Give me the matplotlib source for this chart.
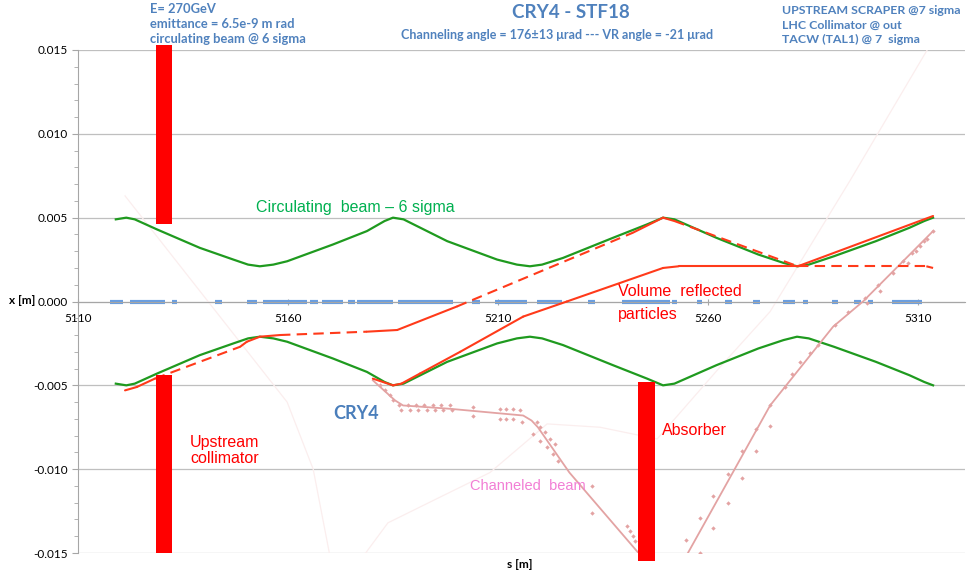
"""
CRY4 - STF18 channeling layout: beam envelope, trajectories and absorbers.
"""

import matplotlib
matplotlib.use("Agg")
import matplotlib.pyplot as plt
from matplotlib.ticker import MultipleLocator, FixedLocator, FormatStrFormatter

# --- circulating beam envelope (upper side; lower side is the mirror) ---
env_s = [5119.0, 5121.5, 5123.5, 5128.8, 5139.0, 5147.0, 5150.5, 5153.3, 5156.5,
         5159.8, 5170.7, 5178.8, 5183.0, 5185.0, 5187.5, 5197.9, 5209.8, 5214.5,
         5217.6, 5220.5, 5225.5, 5237.4, 5245.5, 5249.3, 5252.0, 5262.0, 5272.0,
         5278.0, 5281.2, 5284.0, 5290.0, 5300.0, 5308.0, 5311.5, 5313.6]
env_x = [0.0049, 0.0050, 0.0049, 0.0043, 0.0032, 0.0025, 0.0022, 0.0021, 0.0022,
         0.0024, 0.0034, 0.0042, 0.0048, 0.0050, 0.0049, 0.0036, 0.0025, 0.0022,
         0.0021, 0.0022, 0.0026, 0.0038, 0.0046, 0.0050, 0.0049, 0.0038, 0.0028,
         0.0023, 0.0021, 0.0022, 0.0027, 0.0036, 0.0044, 0.0048, 0.0050]

# --- red trajectory 1 (mixed solid / dashed pieces) ---
red1_s = [5121.2, 5124.0, 5128.3, 5148.6, 5150.2, 5153.3, 5158.1, 5178.8,
          5186.0, 5200.2, 5242.1, 5249.3, 5252.0, 5281.4, 5313.6]
red1_x = [-0.0053, -0.0051, -0.0046, -0.0027, -0.0024, -0.0021, -0.0020, -0.0018,
          -0.0017, -0.0003, 0.0041, 0.0050, 0.0048, 0.0021, 0.0051]
red1_dash = [False, False, True, False, False, False, True, False,
             False, True, False, False, True, False]

# --- red trajectory 2 (from the crystal) ---
red2_s = [5180.2, 5185.0, 5187.0, 5191.4, 5201.0, 5216.0, 5226.4, 5249.3,
          5253.0, 5281.4, 5312.0, 5313.6]
red2_x = [-0.0046, -0.0050, -0.0049, -0.0043, -0.0030, -0.0009, 0.0000, 0.0020,
          0.0021, 0.0021, 0.0021, 0.0020]
red2_dash = [False] * 9 + [True, True]

# --- channeled beam, two legs ---
chan1_s = [5180.2, 5185.5, 5187.4, 5198.6, 5216.0, 5218.0, 5219.5, 5227.0, 5243.8]
chan1_x = [-0.0047, -0.0059, -0.0062, -0.0064, -0.0068, -0.0071, -0.0075, -0.0102, -0.0151]
chan2_s = [5255.0, 5264.8, 5274.8, 5289.8, 5296.9, 5313.6]
chan2_x = [-0.0151, -0.0107, -0.0062, -0.0015, 0.0000, 0.0042]

chan_dot_s = [5181.9, 5183.1, 5184.3, 5185.0,
              5186.5, 5188.5, 5190.5, 5192.5, 5194.5, 5196.5, 5198.5,
              5187.0, 5189.0, 5191.0, 5193.0, 5195.0, 5197.0, 5199.0,
              5204.0, 5204.0, 5210.5, 5212.0, 5213.6, 5210.5, 5212.0, 5213.6,
              5215.2, 5215.7, 5219.3, 5220.0, 5221.2, 5222.4, 5223.6,
              5218.3, 5220.0, 5221.7, 5223.1, 5224.3, 5232.4, 5232.4,
              5240.7, 5241.4, 5242.1, 5242.6,
              5254.8, 5258.1, 5258.1, 5261.2, 5261.2, 5264.8, 5264.8, 5268.1, 5268.1,
              5271.4, 5271.4, 5274.8, 5274.8, 5278.3, 5280.0, 5281.9, 5284.3, 5286.2,
              5290.2, 5293.3, 5297.4, 5297.9, 5300.5, 5301.0, 5304.0, 5306.4, 5308.6,
              5310.5, 5312.1, 5313.6, 5307.6, 5309.5, 5311.4]
chan_dot_x = [-0.0050, -0.0053, -0.0056, -0.0059,
              -0.0062, -0.0062, -0.0062, -0.0062, -0.0062, -0.0062, -0.0062,
              -0.0065, -0.0065, -0.0065, -0.0065, -0.0065, -0.0065, -0.0065,
              -0.0063, -0.0068, -0.0064, -0.0064, -0.0064, -0.0070, -0.0070, -0.0070,
              -0.0065, -0.0072, -0.0072, -0.0075, -0.0078, -0.0082, -0.0085,
              -0.0079, -0.0083, -0.0087, -0.0091, -0.0095, -0.0110, -0.0126,
              -0.0134, -0.0137, -0.0140, -0.0143,
              -0.0142, -0.0129, -0.0150, -0.0135, -0.0116, -0.0120, -0.0103, -0.0105, -0.0089,
              -0.0089, -0.0076, -0.0074, -0.0062, -0.0051, -0.0043, -0.0036, -0.0031, -0.0026,
              -0.0014, -0.0006, 0.0002, -0.0001, 0.0010, 0.0006, 0.0017, 0.0024, 0.0029,
              0.0033, 0.0037, 0.0042, 0.0023, 0.0030, 0.0036]

# --- very faint background trajectories ---
faintA_s = [5121.2, 5159.8, 5166.0, 5170.0]
faintA_x = [0.0063, -0.0060, -0.0100, -0.0152]
faintB_s = [5177.9, 5183.8, 5208.1, 5221.7, 5234.3, 5247.9, 5262.9, 5274.8, 5293.8, 5312.9]
faintB_x = [-0.0152, -0.0132, -0.0102, -0.0073, -0.0075, -0.0082, -0.0039, -0.0006, 0.0072, 0.0153]

# --- aperture markers on the axis (start / end of each dash) ---
mark_start = [5117.6, 5122.4, 5132.4, 5142.6, 5150.2, 5154.0, 5165.2, 5168.1, 5174.3,
              5176.4, 5186.2, 5203.8, 5209.3, 5219.3, 5231.4, 5239.5, 5251.4, 5257.4,
              5264.0, 5270.7, 5277.9, 5282.6, 5289.5, 5294.8, 5298.1, 5303.7]
mark_end = [5120.7, 5130.7, 5133.6, 5144.3, 5152.6, 5164.5, 5167.1, 5173.1, 5176.0,
            5185.0, 5199.3, 5205.7, 5216.9, 5225.2, 5233.1, 5250.9, 5252.6, 5258.6,
            5265.7, 5272.4, 5280.7, 5283.8, 5291.0, 5296.4, 5299.4, 5310.9]

# --- collimator / absorber jaws ---
jaw_s = [5130.5, 5130.5, 5245.3]
jaw_bottom = [0.0046, -0.0150, -0.0155]
jaw_top = [0.0153, -0.0044, -0.0048]

s_ticks = [5110, 5160, 5210, 5260, 5310]

GREEN = "#1f9a1f"
RED = "#ff3a1a"
PINK = "#e3a3a3"
BLUE_TXT = "#4f81bd"


def draw_pieces(ax, s, x, dashed, color):
    for i, d in enumerate(dashed):
        ax.plot(s[i:i + 2], x[i:i + 2], color=color, linewidth=1.5,
                linestyle=(0, (5, 3)) if d else "-", solid_capstyle="round", zorder=4)


fig = plt.figure(figsize=(9.71, 5.75), dpi=100)
ax = fig.add_axes([78 / 971, 1 - 553 / 575, (965 - 78) / 971, (553 - 50) / 575])

ax.set_xlim(5110, 5321.2)
ax.set_ylim(-0.015, 0.015)

# faint lines
ax.plot(faintA_s, faintA_x, color="#fbeeee", linewidth=0.9, zorder=1)
ax.plot(faintB_s, faintB_x, color="#fbeeee", linewidth=0.9, zorder=1)

# aperture markers
ax.hlines([0] * len(mark_start), mark_start, mark_end, color="#6a9ee0",
          linewidth=3.0, zorder=2)

# envelope
ax.plot(env_s, env_x, color=GREEN, linewidth=1.6, zorder=3)
ax.plot(env_s, [-v for v in env_x], color=GREEN, linewidth=1.6, zorder=3)

# trajectories
draw_pieces(ax, red1_s, red1_x, red1_dash, RED)
draw_pieces(ax, red2_s, red2_x, red2_dash, RED)

ax.plot(chan1_s, chan1_x, color=PINK, linewidth=1.3, zorder=3)
ax.plot(chan2_s, chan2_x, color=PINK, linewidth=1.3, zorder=3)
ax.scatter(chan_dot_s, chan_dot_x, s=5, color=PINK, marker="D", linewidths=0, zorder=3)

# jaws
ax.bar(jaw_s, [t - b for t, b in zip(jaw_top, jaw_bottom)], bottom=jaw_bottom,
       width=4.0, color="#ff0000", zorder=5, clip_on=False)

# axes styling (spreadsheet look)
for side in ("top", "right"):
    ax.spines[side].set_visible(False)
ax.spines["bottom"].set_position(("data", 0))
ax.spines["bottom"].set_color("#a6a6a6")
ax.spines["left"].set_color("#a6a6a6")
ax.yaxis.set_major_locator(MultipleLocator(0.005))
ax.yaxis.set_minor_locator(MultipleLocator(0.001))
ax.yaxis.set_major_formatter(FormatStrFormatter("%.3f"))
ax.xaxis.set_major_locator(FixedLocator(s_ticks))
ax.grid(axis="y", color="#bfbfbf", linewidth=0.9)
ax.set_axisbelow(True)
ax.tick_params(axis="y", which="both", direction="out", color="#a6a6a6",
               labelsize=8.5, pad=3)
ax.tick_params(axis="y", which="major", length=4)
ax.tick_params(axis="y", which="minor", length=3)
ax.tick_params(axis="x", direction="inout", length=5, color="#a6a6a6",
               labelsize=8.5, pad=6)
for lbl in ax.get_xticklabels() + ax.get_yticklabels():
    lbl.set_fontfamily("Lato")

fig.text(22 / 971, 1 - 300 / 575, "x [m]", fontsize=8.5, fontweight="bold",
         family="Lato", ha="center", va="center")
fig.text(520 / 971, 1 - 565 / 575, "s [m]", fontsize=8.5, fontweight="bold",
         family="Lato", ha="center", va="center")

# header texts
fig.text(150 / 971, 1 - 24 / 575,
         "E= 270GeV\nemittance = 6.5e-9 m rad\ncirculating beam @ 6 sigma",
         fontsize=9.3, fontweight="bold", family="Lato", color=BLUE_TXT,
         ha="left", va="center", linespacing=1.33)
fig.text(571 / 971, 1 - 13 / 575, "CRY4 - STF18", fontsize=13.5, fontweight="bold",
         family="Lato", color=BLUE_TXT, ha="center", va="center")
fig.text(557 / 971, 1 - 35 / 575,
         "Channeling angle = 176\u00b113 \u03bcrad --- VR angle = -21 \u03bcrad",
         fontsize=9, fontweight="bold", family="Lato", color=BLUE_TXT,
         ha="center", va="center")
fig.text(782 / 971, 1 - 25 / 575,
         "UPSTREAM SCRAPER @7 sigma\nLHC Collimator @ out\nTACW (TAL1) @ 7  sigma",
         fontsize=8.9, fontweight="bold", family="Lato", color=BLUE_TXT,
         ha="left", va="center", linespacing=1.33)

# annotations
ax.text(5152.5, 0.0056, "Circulating  beam \u2013 6 sigma", fontsize=11.5,
        family="Liberation Sans", color="#00b050", ha="left", va="center")
ax.text(5238.6, 0.0006, "Volume  reflected", fontsize=11.5,
        family="Liberation Sans", color="#ff0000", ha="left", va="center")
ax.text(5238.6, -0.0008, "particles", fontsize=11.5,
        family="Liberation Sans", color="#ff0000", ha="left", va="center")
ax.text(5170.8, -0.0067, "CRY4", fontsize=13, fontweight="bold", family="Lato",
        color="#4a7ebb", ha="left", va="center")
ax.text(5136.7, -0.0089, "Upstream\ncollimator", fontsize=11.5,
        family="Liberation Sans", color="#ff0000", ha="left", va="center",
        linespacing=1.05)
ax.text(5249.0, -0.0077, "Absorber", fontsize=11.5, family="Liberation Sans",
        color="#ff0000", ha="left", va="center")
ax.text(5203.3, -0.0110, "Channeled  beam", fontsize=10.5,
        family="Liberation Sans", color="#f27ed5", ha="left", va="center")

fig.savefig("out.png", dpi=100)
plt.close(fig)
